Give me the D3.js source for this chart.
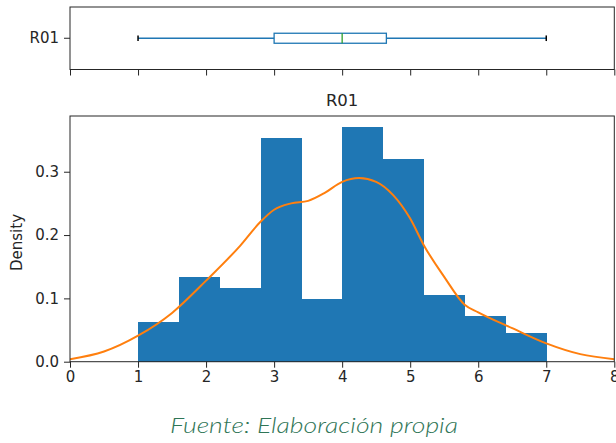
<!DOCTYPE html>
<html><head><meta charset="utf-8">
<script src="https://cdn.jsdelivr.net/npm/d3@7"></script>
<style>
body{margin:0;background:#fff;}
svg{display:block;font-family:"DejaVu Sans",sans-serif;}
</style></head>
<body><svg id="c" width="616" height="443"></svg>
<script>
// ---- data ----
const binEdges = [1.0, 1.6, 2.2, 2.8, 3.4, 4.0, 4.6, 5.2, 5.8, 6.4, 7.0];
const binDensity = [0.063, 0.134, 0.117, 0.353, 0.0985, 0.370, 0.320, 0.106, 0.0726, 0.0448];
const kdeX = [0, 0.5, 1, 1.5, 2, 2.5, 2.8, 3, 3.25, 3.5, 3.75, 4, 4.25, 4.5, 4.75, 5, 5.2, 5.5, 5.8, 6, 6.5, 7, 7.5, 8];
const kdeY = [0.004, 0.016, 0.041, 0.077, 0.128, 0.183, 0.221, 0.240, 0.250, 0.254, 0.267, 0.284, 0.290, 0.284, 0.263, 0.226, 0.184, 0.134, 0.090, 0.078, 0.053, 0.029, 0.012, 0.004];
const boxStats = {min: 1, q1: 3, median: 4, q3: 4.65, max: 7};
const seriesName = "R01";
const xTicks = [0, 1, 2, 3, 4, 5, 6, 7, 8];
const yTicks = [0.0, 0.1, 0.2, 0.3];
const source = "Fuente: Elaboración propia";

const svg = d3.select("#c");
const C0 = "#1f77b4", C1 = "#ff7f0e", C2 = "#2ca02c", AX = "#262626";

// scales
const x = d3.scaleLinear().domain([0, 8]).range([70, 614.3]);

// ---- top box plot panel ----
const boxPanel = {t: 7, b: 69.5};
const yb = d3.scaleBand().domain([seriesName]).range([boxPanel.b, boxPanel.t]);
const cy = yb(seriesName) + yb.bandwidth() / 2;

svg.append("line").attr("x1", x(boxStats.min)).attr("x2", x(boxStats.q1))
  .attr("y1", cy).attr("y2", cy).attr("stroke", C0).attr("stroke-width", 1.3);
svg.append("line").attr("x1", x(boxStats.q3)).attr("x2", x(boxStats.max))
  .attr("y1", cy).attr("y2", cy).attr("stroke", C0).attr("stroke-width", 1.3);
[boxStats.min, boxStats.max].forEach(v => {
  svg.append("line").attr("x1", x(v)).attr("x2", x(v))
    .attr("y1", cy - 2.8).attr("y2", cy + 2.8).attr("stroke", "#000").attr("stroke-width", 1.5);
});
svg.append("rect").attr("x", x(boxStats.q1)).attr("y", cy - 5)
  .attr("width", x(boxStats.q3) - x(boxStats.q1)).attr("height", 10)
  .attr("fill", "none").attr("stroke", C0).attr("stroke-width", 1.3);
svg.append("line").attr("x1", x(boxStats.median)).attr("x2", x(boxStats.median))
  .attr("y1", cy - 5).attr("y2", cy + 5).attr("stroke", C2).attr("stroke-width", 1.3);

svg.append("rect").attr("x", 70).attr("y", boxPanel.t).attr("width", x(8) - 70).attr("height", boxPanel.b - boxPanel.t)
  .attr("fill", "none").attr("stroke", AX).attr("stroke-width", 1);

const topX = svg.append("g").attr("transform", `translate(0,${boxPanel.b})`)
  .call(d3.axisBottom(x).tickValues(xTicks).tickSize(6).tickFormat(""));
topX.select(".domain").remove();
topX.selectAll("line").attr("stroke", AX);
const topY = svg.append("g").attr("transform", "translate(70,0)")
  .call(d3.axisLeft(yb).tickSize(6).tickPadding(5));
topY.select(".domain").remove();
topY.selectAll("line").attr("stroke", AX);
topY.selectAll("text").attr("font-size", 15).attr("fill", AX).attr("font-family", "DejaVu Sans");

// ---- histogram panel ----
const y = d3.scaleLinear().domain([0, 0.388]).range([361.7, 116]);

svg.append("g").attr("shape-rendering", "crispEdges").selectAll("rect").data(binDensity).join("rect")
  .attr("x", (d, i) => x(binEdges[i]))
  .attr("width", (d, i) => x(binEdges[i + 1]) - x(binEdges[i]) + 0.5)
  .attr("y", d => y(d))
  .attr("height", d => y(0) - y(d))
  .attr("fill", C0);

svg.append("clipPath").attr("id", "clip").append("rect")
  .attr("x", 70).attr("y", 116).attr("width", x(8) - 70).attr("height", y(0) - 116);

const line = d3.line().x((d, i) => x(kdeX[i])).y(d => y(d)).curve(d3.curveMonotoneX);
svg.append("path").datum(kdeY).attr("d", line).attr("fill", "none")
  .attr("stroke", C1).attr("stroke-width", 2).attr("clip-path", "url(#clip)");

svg.append("rect").attr("x", 70).attr("y", 116).attr("width", x(8) - 70).attr("height", y(0) - 116)
  .attr("fill", "none").attr("stroke", AX).attr("stroke-width", 1);

const bx = svg.append("g").attr("transform", `translate(0,${y(0)})`)
  .call(d3.axisBottom(x).tickValues(xTicks).tickSize(6).tickPadding(4).tickFormat(d3.format("d")));
bx.select(".domain").remove();
bx.selectAll("line").attr("stroke", AX);
bx.selectAll("text").attr("font-size", 15).attr("fill", AX).attr("font-family", "DejaVu Sans");

const by = svg.append("g").attr("transform", "translate(70,0)")
  .call(d3.axisLeft(y).tickValues(yTicks).tickSize(6).tickPadding(5).tickFormat(d3.format(".1f")));
by.select(".domain").remove();
by.selectAll("line").attr("stroke", AX);
by.selectAll("text").attr("font-size", 15).attr("fill", AX).attr("font-family", "DejaVu Sans");

svg.append("text").attr("x", x(4)).attr("y", 106).attr("text-anchor", "middle")
  .attr("font-size", 16.5).attr("fill", AX).text(seriesName);

svg.append("text").attr("transform", "translate(22,242.5) rotate(-90)")
  .attr("text-anchor", "middle").attr("font-size", 15).attr("fill", AX).text("Density");

svg.append("text").attr("x", 314).attr("y", 433).attr("text-anchor", "middle")
  .attr("font-family", "Lato, 'Open Sans', sans-serif").attr("font-style", "italic").attr("font-weight", 300)
  .attr("font-size", 22).attr("fill", "#2f7556")
  .attr("textLength", 288).attr("lengthAdjust", "spacingAndGlyphs")
  .text(source);
</script></body></html>
